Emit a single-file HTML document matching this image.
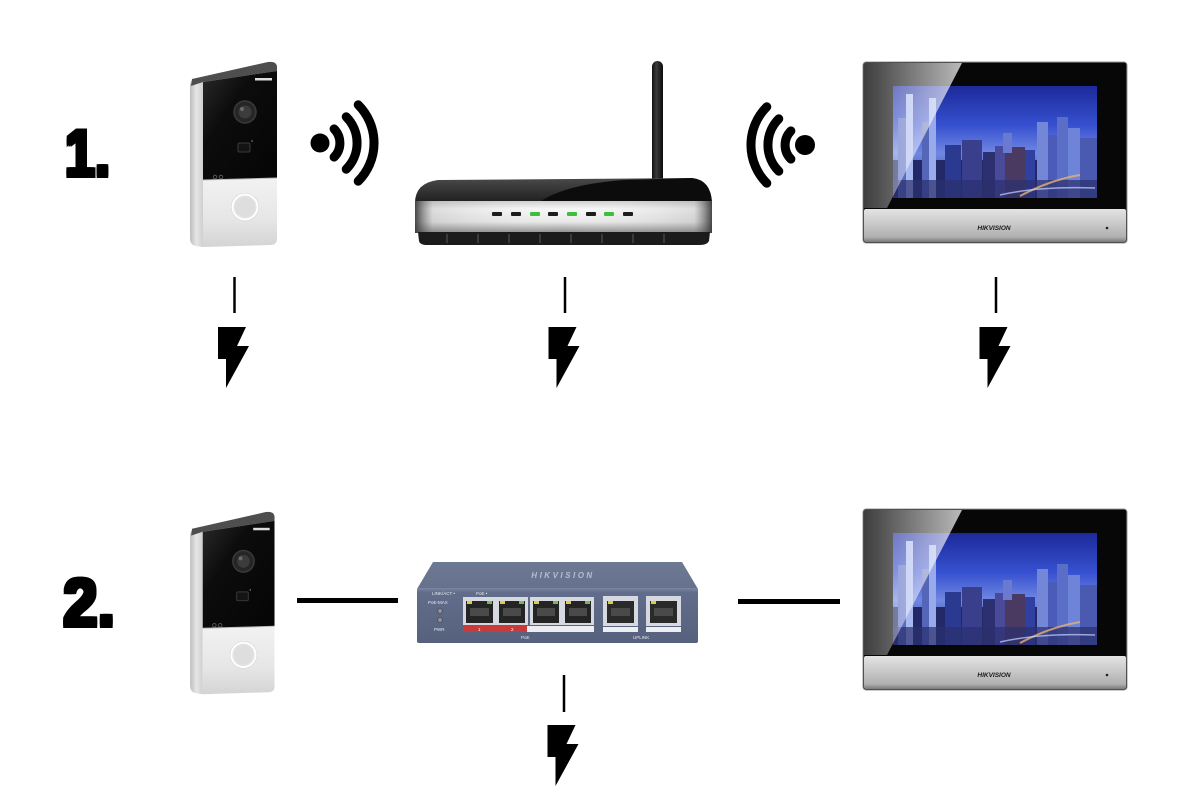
<!DOCTYPE html>
<html><head><meta charset="utf-8"><style>
html,body{margin:0;padding:0;background:#fff;}
svg{display:block;}
</style></head><body>
<svg width="1189" height="788" viewBox="0 0 1189 788" xmlns="http://www.w3.org/2000/svg">
<defs>
  <linearGradient id="dbSide" x1="0" y1="0" x2="1" y2="0">
    <stop offset="0" stop-color="#bdbdbd"/><stop offset="0.5" stop-color="#e6e6e6"/><stop offset="1" stop-color="#cfcfcf"/>
  </linearGradient>
  <linearGradient id="dbFace" x1="0" y1="0" x2="1" y2="1">
    <stop offset="0" stop-color="#2a2a2a"/><stop offset="0.35" stop-color="#0c0c0c"/><stop offset="1" stop-color="#050505"/>
  </linearGradient>
  <linearGradient id="dbLow" x1="0" y1="0" x2="0" y2="1">
    <stop offset="0" stop-color="#f2f2f2"/><stop offset="0.6" stop-color="#e6e6e6"/><stop offset="1" stop-color="#d4d4d4"/>
  </linearGradient>
  <linearGradient id="ant" x1="0" y1="0" x2="1" y2="0">
    <stop offset="0" stop-color="#111"/><stop offset="0.4" stop-color="#3a3a3a"/><stop offset="1" stop-color="#0a0a0a"/>
  </linearGradient>
  <linearGradient id="rSilver" x1="0" y1="0" x2="0" y2="1">
    <stop offset="0" stop-color="#cfcfcf"/><stop offset="0.25" stop-color="#f7f7f7"/><stop offset="0.65" stop-color="#e8e8e8"/><stop offset="1" stop-color="#8a8a8a"/>
  </linearGradient>
  <linearGradient id="rEdge" x1="415" y1="0" x2="712" y2="0" gradientUnits="userSpaceOnUse">
    <stop offset="0" stop-color="#333" stop-opacity="0.9"/><stop offset="0.06" stop-color="#777" stop-opacity="0.2"/><stop offset="0.5" stop-color="#fff" stop-opacity="0"/><stop offset="0.94" stop-color="#777" stop-opacity="0.2"/><stop offset="1" stop-color="#333" stop-opacity="0.9"/>
  </linearGradient>
  <linearGradient id="rTop" x1="0" y1="0" x2="0" y2="1">
    <stop offset="0" stop-color="#4a4a4a"/><stop offset="1" stop-color="#1e1e1e"/>
  </linearGradient>
  <linearGradient id="monSilver" x1="0" y1="0" x2="0" y2="1">
    <stop offset="0" stop-color="#e4e4e4"/><stop offset="0.45" stop-color="#c9c9c9"/><stop offset="0.85" stop-color="#b0b0b0"/><stop offset="1" stop-color="#7a7a7a"/>
  </linearGradient>
  <linearGradient id="sky" x1="0" y1="0" x2="0" y2="1">
    <stop offset="0" stop-color="#1c2a9a"/><stop offset="0.35" stop-color="#3650cf"/><stop offset="0.6" stop-color="#7088e2"/><stop offset="1" stop-color="#2a2f78"/>
  </linearGradient>
  <linearGradient id="refl" x1="864" y1="0" x2="962" y2="0" gradientUnits="userSpaceOnUse">
    <stop offset="0" stop-color="#ffffff" stop-opacity="0.22"/><stop offset="1" stop-color="#ffffff" stop-opacity="0.72"/>
  </linearGradient>
  <linearGradient id="swTop" x1="0" y1="0" x2="0" y2="1">
    <stop offset="0" stop-color="#6e7993"/><stop offset="1" stop-color="#66718d"/>
  </linearGradient>
  <linearGradient id="swFront" x1="0" y1="0" x2="0" y2="1">
    <stop offset="0" stop-color="#7a86a2"/><stop offset="0.08" stop-color="#616d8a"/><stop offset="1" stop-color="#56617d"/>
  </linearGradient>
  <clipPath id="scr"><rect x="893" y="86" width="204" height="112"/></clipPath>

  <g id="doorbell">
    <path d="M190,86 Q190,80 195,79 L203,78 L203,247 L196,246 Q190,245 190,238 Z" fill="url(#dbSide)"/>
    <path d="M192,79 L268,62 Q276,61 277,66 L277,71 L203,82 L191,86 Z" fill="#4e4e4e"/>
    <path d="M203,82 L277,71 L277,178 L203,180 Z" fill="url(#dbFace)"/>
    <path d="M203,180 L277,178 L277,239 Q277,245 270,245 L203,247 Z" fill="url(#dbLow)"/>
    <path d="M203,180 L277,178" stroke="#bdbdbd" stroke-width="1"/>
    <circle cx="245" cy="112" r="11" fill="#262626" stroke="#3a3a3a" stroke-width="1.5"/>
    <circle cx="245" cy="112" r="6.5" fill="#3c3c3c"/>
    <circle cx="242" cy="109" r="2" fill="#6a6a6a"/>
    <rect x="238" y="143" width="12" height="9" rx="1.5" fill="#141414" stroke="#3a3a3a" stroke-width="1"/>
    <circle cx="252" cy="141" r="0.8" fill="#888"/>
    <circle cx="215" cy="177" r="1.8" fill="none" stroke="#666" stroke-width="0.8"/>
    <circle cx="221" cy="177" r="1.8" fill="none" stroke="#666" stroke-width="0.8"/>
    <rect x="255" y="78" width="17" height="2.5" fill="#ddd"/>
    <circle cx="245" cy="207" r="14" fill="#d0d0d0"/>
    <circle cx="245" cy="207" r="12.5" fill="#e4e4e4" stroke="#ffffff" stroke-width="2"/>
    <circle cx="245" cy="207" r="10" fill="#dedede"/>
  </g>

  <g id="wifi" fill="none" stroke="#000" stroke-width="9" stroke-linecap="round">
    <path d="M334.1,128.9 A20,20 0 0 1 334.1,157.1"/>
    <path d="M346.2,116.8 A37,37 0 0 1 346.2,169.2"/>
    <path d="M358.2,104.8 A54,54 0 0 1 358.2,181.2"/>
  </g>

  <g id="monitor">
    <rect x="863" y="62" width="264" height="181" rx="3" fill="#070707" stroke="#9a9a9a" stroke-width="1"/>
    <rect x="864" y="209" width="262" height="33" rx="2" fill="url(#monSilver)"/>
    <rect x="893" y="86" width="204" height="112" fill="url(#sky)"/>
    <g clip-path="url(#scr)">
      <rect x="893" y="160" width="204" height="38" fill="#232866"/>
      <rect x="898" y="118" width="14" height="80" fill="#5a6cc0"/>
      <rect x="906" y="94" width="7" height="104" fill="#a8b8f0"/>
      <rect x="922" y="122" width="12" height="76" fill="#5566b8"/>
      <rect x="929" y="98" width="7" height="100" fill="#98aaea"/>
      <rect x="945" y="145" width="16" height="53" fill="#2a3a90"/>
      <rect x="962" y="140" width="20" height="58" fill="#3a3f8c"/>
      <rect x="983" y="152" width="12" height="46" fill="#2c2f70"/>
      <rect x="995" y="146" width="12" height="52" fill="#4a4a9a"/>
      <rect x="1005" y="147" width="20" height="51" fill="#4a3a62"/>
      <rect x="1003" y="133" width="9" height="20" fill="#6a7ad0"/>
      <rect x="1025" y="150" width="10" height="48" fill="#3040a0"/>
      <rect x="1037" y="122" width="11" height="76" fill="#7486d6"/>
      <rect x="1048" y="135" width="9" height="63" fill="#4a5cb8"/>
      <rect x="1057" y="117" width="11" height="81" fill="#5a6ec8"/>
      <rect x="1068" y="128" width="12" height="70" fill="#6e84d8"/>
      <rect x="1080" y="138" width="17" height="60" fill="#4a5ab0"/>
      <rect x="893" y="180" width="204" height="18" fill="#2b2f6e" opacity="0.7"/>
      <path d="M1020,196 Q1050,180 1080,175" stroke="#e8b070" stroke-width="2" fill="none" opacity="0.8"/>
      <path d="M1000,195 Q1040,186 1095,188" stroke="#c8d4ff" stroke-width="1.5" fill="none" opacity="0.7"/>
    </g>
    <polygon points="864,63 962,63 887,208 864,208" fill="url(#refl)"/>
    <text x="994" y="230" font-family="Liberation Sans, sans-serif" font-size="6.5" font-weight="bold" font-style="italic" text-anchor="middle" fill="#1a1a1a">HIKVISION</text>
    <circle cx="1107" cy="228" r="1.3" fill="#222"/>
  </g>

  <polygon id="bolt" points="-16.5,0 11.5,0 2.5,19 14.5,19 -8.5,61 -8.5,32 -16.5,32" fill="#000"/>
</defs>

<!-- Row labels (multiple offset fills for a heavy weight) -->
<g font-family="Liberation Sans, sans-serif" font-size="66" font-weight="bold" fill="#000">
  <text x="63" y="178" textLength="45" lengthAdjust="spacingAndGlyphs">1.</text>
  <text x="65" y="178" textLength="45" lengthAdjust="spacingAndGlyphs">1.</text>
  <text x="67" y="178" textLength="45" lengthAdjust="spacingAndGlyphs">1.</text>
  <text x="63" y="176" textLength="45" lengthAdjust="spacingAndGlyphs">1.</text>
  <text x="65" y="176" textLength="45" lengthAdjust="spacingAndGlyphs">1.</text>
  <text x="67" y="176" textLength="45" lengthAdjust="spacingAndGlyphs">1.</text>
  <text x="63" y="174" textLength="45" lengthAdjust="spacingAndGlyphs">1.</text>
  <text x="65" y="174" textLength="45" lengthAdjust="spacingAndGlyphs">1.</text>
  <text x="67" y="174" textLength="45" lengthAdjust="spacingAndGlyphs">1.</text>
</g>
<g font-family="Liberation Sans, sans-serif" font-size="68" font-weight="bold" fill="#000">
  <text x="61" y="628" textLength="52" lengthAdjust="spacingAndGlyphs">2.</text>
  <text x="63" y="628" textLength="52" lengthAdjust="spacingAndGlyphs">2.</text>
  <text x="65" y="628" textLength="52" lengthAdjust="spacingAndGlyphs">2.</text>
  <text x="61" y="626" textLength="52" lengthAdjust="spacingAndGlyphs">2.</text>
  <text x="63" y="626" textLength="52" lengthAdjust="spacingAndGlyphs">2.</text>
  <text x="65" y="626" textLength="52" lengthAdjust="spacingAndGlyphs">2.</text>
  <text x="61" y="624" textLength="52" lengthAdjust="spacingAndGlyphs">2.</text>
  <text x="63" y="624" textLength="52" lengthAdjust="spacingAndGlyphs">2.</text>
  <text x="65" y="624" textLength="52" lengthAdjust="spacingAndGlyphs">2.</text>
</g>

<!-- Row 1 -->
<use href="#doorbell"/>
<circle cx="320" cy="143" r="9.5" fill="#000"/>
<use href="#wifi"/>
<circle cx="805" cy="145" r="10" fill="#000"/>
<use href="#wifi" transform="translate(1125,2) scale(-1,1)"/>

<!-- Router -->
<rect x="652" y="61" width="11" height="122" rx="5.5" fill="url(#ant)"/>
<path d="M415,203 Q415,183 438,180 L692,178 Q711,180 712,203 Z" fill="url(#rTop)"/>
<path d="M538,203 Q565,184 625,180 L692,178 Q711,180 712,203 Z" fill="#0c0c0c"/>
<rect x="415" y="201" width="297" height="32" fill="url(#rSilver)"/>
<rect x="415" y="201" width="297" height="32" fill="url(#rEdge)"/>
<path d="M418,232 L710,232 L709,241 Q707,245 700,245 L427,245 Q420,245 419,241 Z" fill="#1b1b1b"/>
<g fill="#3a3a3a">
  <rect x="446" y="234" width="2" height="9"/><rect x="477" y="234" width="2" height="9"/><rect x="508" y="234" width="2" height="9"/>
  <rect x="539" y="234" width="2" height="9"/><rect x="570" y="234" width="2" height="9"/><rect x="601" y="234" width="2" height="9"/>
  <rect x="632" y="234" width="2" height="9"/><rect x="663" y="234" width="2" height="9"/>
</g>
<g>
  <rect x="492" y="212" width="10" height="4" rx="1" fill="#1c1c1c"/>
  <rect x="511" y="212" width="10" height="4" rx="1" fill="#1c1c1c"/>
  <rect x="530" y="212" width="10" height="4" rx="1" fill="#3cbf3c"/>
  <rect x="548" y="212" width="10" height="4" rx="1" fill="#1c1c1c"/>
  <rect x="567" y="212" width="10" height="4" rx="1" fill="#3cbf3c"/>
  <rect x="586" y="212" width="10" height="4" rx="1" fill="#1c1c1c"/>
  <rect x="604" y="212" width="10" height="4" rx="1" fill="#3cbf3c"/>
  <rect x="623" y="212" width="10" height="4" rx="1" fill="#1c1c1c"/>
</g>

<use href="#monitor"/>

<!-- Power connectors -->
<g stroke="#000" stroke-width="2.5">
  <line x1="234.5" y1="277" x2="234.5" y2="313"/>
  <line x1="565" y1="277" x2="565" y2="313"/>
  <line x1="996" y1="277" x2="996" y2="313"/>
  <line x1="564" y1="675" x2="564" y2="712"/>
</g>
<use href="#bolt" transform="translate(234.5,327)"/>
<use href="#bolt" transform="translate(565,327)"/>
<use href="#bolt" transform="translate(996,327)"/>
<use href="#bolt" transform="translate(564,725)"/>

<!-- Row 2 -->
<use href="#doorbell" transform="translate(0,449) scale(0.97,0.985) translate(6,2)"/>
<rect x="297" y="598" width="101" height="5" fill="#000"/>
<rect x="738" y="599" width="102" height="5" fill="#000"/>
<use href="#monitor" transform="translate(0,447)"/>

<!-- Switch -->
<polygon points="433,562 682,562 698,589 417,589" fill="url(#swTop)"/>
<rect x="417" y="588" width="281" height="55" rx="2" fill="url(#swFront)"/>
<text x="563" y="578" font-family="Liberation Sans, sans-serif" font-size="8" font-weight="bold" font-style="italic" text-anchor="middle" fill="#b6bed2" letter-spacing="2.5">HIKVISION</text>
<g font-family="Liberation Sans, sans-serif" font-size="4.5" fill="#e8eaf0">
  <text x="432" y="595">LINK/ACT •</text>
  <text x="476" y="595">PoE •</text>
  <text x="428" y="604">PoE-MAX</text>
  <text x="434" y="631">PWR</text>
  <text x="521" y="639">PoE</text>
  <text x="633" y="639">UPLINK</text>
</g>
<circle cx="440" cy="611" r="2.5" fill="#8a8e98" stroke="#444" stroke-width="0.6"/>
<circle cx="440" cy="620" r="2.5" fill="#8a8e98" stroke="#444" stroke-width="0.6"/>
<g>
  <rect x="463" y="597" width="33" height="28" fill="#d6d9e0"/>
  <rect x="466" y="601" width="27" height="22" fill="#242424"/>
  <rect x="496" y="597" width="32" height="28" fill="#d6d9e0"/>
  <rect x="499" y="601" width="26" height="22" fill="#242424"/>
  <rect x="530" y="597" width="32" height="28" fill="#d6d9e0"/>
  <rect x="533" y="601" width="26" height="22" fill="#242424"/>
  <rect x="562" y="597" width="32" height="28" fill="#d6d9e0"/>
  <rect x="565" y="601" width="26" height="22" fill="#242424"/>
  <rect x="603" y="596" width="35" height="30" fill="#d6d9e0"/>
  <rect x="607" y="601" width="27" height="22" fill="#2a2a2a"/>
  <rect x="646" y="596" width="35" height="30" fill="#d6d9e0"/>
  <rect x="650" y="601" width="27" height="22" fill="#2a2a2a"/>
</g>
<g fill="#d8d040">
  <rect x="467" y="601" width="5" height="3"/><rect x="500" y="601" width="5" height="3"/><rect x="534" y="601" width="5" height="3"/><rect x="566" y="601" width="5" height="3"/>
  <rect x="608" y="601" width="5" height="3"/><rect x="651" y="601" width="5" height="3"/>
</g>
<g fill="#6cc050">
  <rect x="487" y="601" width="5" height="3"/><rect x="519" y="601" width="5" height="3"/><rect x="553" y="601" width="5" height="3"/><rect x="585" y="601" width="5" height="3"/>
</g>
<g fill="#4a4a4a">
  <rect x="470" y="608" width="19" height="8"/><rect x="503" y="608" width="18" height="8"/><rect x="537" y="608" width="18" height="8"/><rect x="569" y="608" width="18" height="8"/>
  <rect x="611" y="608" width="19" height="8"/><rect x="654" y="608" width="19" height="8"/>
</g>
<rect x="463" y="626" width="64" height="6" fill="#c93a3a"/>
<rect x="527" y="626" width="67" height="6" fill="#eceef2"/>
<rect x="603" y="627" width="35" height="5" fill="#eceef2"/>
<rect x="646" y="627" width="35" height="5" fill="#eceef2"/>
<g font-family="Liberation Sans, sans-serif" font-size="4.5" fill="#fff">
  <text x="478" y="631">1</text><text x="511" y="631">2</text>
</g>
</svg>
</body></html>
